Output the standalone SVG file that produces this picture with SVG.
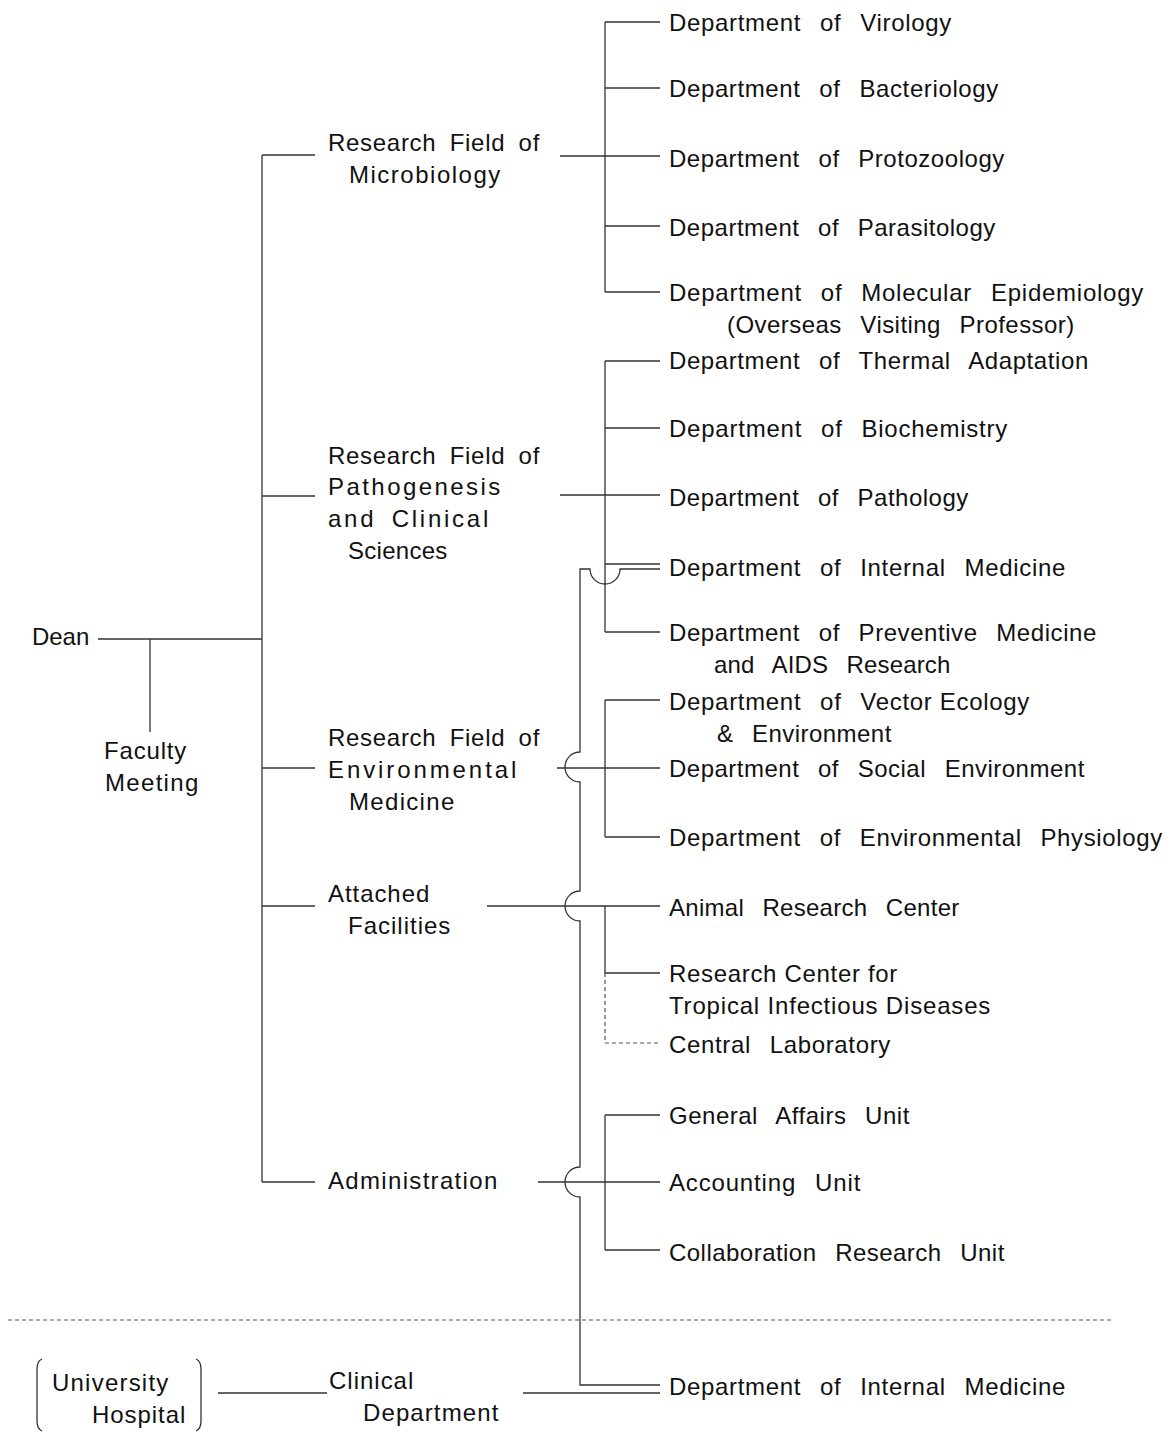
<svg xmlns="http://www.w3.org/2000/svg" width="1172" height="1432" viewBox="0 0 1172 1432">
<style>
text{font-family:"Liberation Sans",Arial,Helvetica,sans-serif;font-size:24px;fill:#111;letter-spacing:0.7px;word-spacing:11.5px}
.l{word-spacing:6px}
.n{word-spacing:0px}
.c{fill:none;stroke:#333;stroke-width:1.3}
.d{fill:none;stroke:#555;stroke-width:1.2;stroke-dasharray:4 3}
</style>
<rect width="1172" height="1432" fill="#fff"/>
<g id="connectors">
<path class="c" d="M98 639H262M150 639V732M262 155V1182M262 155H315M262 496H315M262 768H315M262 906H315M262 1182H315"/>
<path class="c" d="M605 22V292M605 22H660M605 88H660M560 156H660M605 226H660M605 292H660"/>
<path class="c" d="M605 361V632M605 361H660M605 428H660M560 495H660M605 564H660M605 632H660"/>
<path class="c" d="M605 700V837M605 700H660M557 768H660M605 837H660"/>
<path class="c" d="M487 906H660M605 906V973H660"/>
<path class="d" d="M605 973V1043H660"/>
<path class="c" d="M538 1182H660M605 1115V1250M605 1115H660M605 1250H660"/>
<path class="c" d="M660 569H620A15 15 0 0 1 590 569H580V752A15 15 0 0 0 580 782V891A15 15 0 0 0 580 921V1167A15 15 0 0 0 580 1197V1385H660"/>
<path class="c" d="M218 1393H327M523 1393H660"/>
<path class="d" d="M8 1320H1112"/>
</g>
<g id="dean"><text class="l" x="32" y="645" textLength="58" lengthAdjust="spacing">Dean</text></g>
<g id="faculty-meeting"><text class="l" x="104" y="759" textLength="83" lengthAdjust="spacing">Faculty</text><text class="l" x="105" y="791" textLength="94" lengthAdjust="spacing">Meeting</text></g>
<g id="rf-microbiology"><text class="l" x="328" y="151" textLength="212" lengthAdjust="spacing">Research Field of</text><text class="l" x="349" y="183" textLength="152" lengthAdjust="spacing">Microbiology</text></g>
<g id="rf-pathogenesis"><text class="l" x="328" y="464" textLength="212" lengthAdjust="spacing">Research Field of</text><text class="l" x="328" y="495" textLength="173" lengthAdjust="spacing">Pathogenesis</text><text class="l" x="328" y="527" textLength="161" lengthAdjust="spacing">and Clinical</text><text class="l" x="348" y="559" textLength="100" lengthAdjust="spacing">Sciences</text></g>
<g id="rf-environmental"><text class="l" x="328" y="746" textLength="212" lengthAdjust="spacing">Research Field of</text><text class="l" x="328" y="778" textLength="189" lengthAdjust="spacing">Environmental</text><text class="l" x="349" y="810" textLength="106" lengthAdjust="spacing">Medicine</text></g>
<g id="attached-facilities"><text class="l" x="328" y="902" textLength="102" lengthAdjust="spacing">Attached</text><text class="l" x="348" y="934" textLength="103" lengthAdjust="spacing">Facilities</text></g>
<g id="administration"><text class="l" x="328" y="1189" textLength="170" lengthAdjust="spacing">Administration</text></g>
<g id="d-virology"><text x="669" y="31" textLength="283" lengthAdjust="spacing">Department of Virology</text></g>
<g id="d-bacteriology"><text x="669" y="97" textLength="330" lengthAdjust="spacing">Department of Bacteriology</text></g>
<g id="d-protozoology"><text x="669" y="167" textLength="336" lengthAdjust="spacing">Department of Protozoology</text></g>
<g id="d-parasitology"><text x="669" y="236" textLength="327" lengthAdjust="spacing">Department of Parasitology</text></g>
<g id="d-molecular-epidemiology"><text x="669" y="301" textLength="475" lengthAdjust="spacing">Department of Molecular Epidemiology</text><text x="727" y="333" textLength="348" lengthAdjust="spacing">(Overseas Visiting Professor)</text></g>
<g id="d-thermal"><text x="669" y="369" textLength="420" lengthAdjust="spacing">Department of Thermal Adaptation</text></g>
<g id="d-biochemistry"><text x="669" y="437" textLength="339" lengthAdjust="spacing">Department of Biochemistry</text></g>
<g id="d-pathology"><text x="669" y="506" textLength="300" lengthAdjust="spacing">Department of Pathology</text></g>
<g id="d-internal-medicine"><text x="669" y="576" textLength="397" lengthAdjust="spacing">Department of Internal Medicine</text></g>
<g id="d-preventive"><text x="669" y="641" textLength="428" lengthAdjust="spacing">Department of Preventive Medicine</text><text x="714" y="673" textLength="237" lengthAdjust="spacing">and AIDS Research</text></g>
<g id="d-vector"><text x="669" y="710" textLength="361" lengthAdjust="spacing">Department of <tspan class="n">Vector Ecology</tspan></text><text x="717" y="742" textLength="175" lengthAdjust="spacing">&amp; Environment</text></g>
<g id="d-social"><text x="669" y="777" textLength="416" lengthAdjust="spacing">Department of Social Environment</text></g>
<g id="d-env-physiology"><text x="669" y="846" textLength="494" lengthAdjust="spacing">Department of Environmental Physiology</text></g>
<g id="animal-center"><text x="669" y="916" textLength="291" lengthAdjust="spacing">Animal Research Center</text></g>
<g id="tropical-center"><text class="n" x="669" y="982" textLength="229" lengthAdjust="spacing">Research Center for</text><text class="n" x="669" y="1014" textLength="322" lengthAdjust="spacing">Tropical Infectious Diseases</text></g>
<g id="central-lab"><text x="669" y="1053" textLength="222" lengthAdjust="spacing">Central Laboratory</text></g>
<g id="general-affairs"><text x="669" y="1124" textLength="241" lengthAdjust="spacing">General Affairs Unit</text></g>
<g id="accounting"><text x="669" y="1191" textLength="192" lengthAdjust="spacing">Accounting Unit</text></g>
<g id="collaboration"><text x="669" y="1261" textLength="336" lengthAdjust="spacing">Collaboration Research Unit</text></g>
<g id="university-hospital"><path class="c" d="M42 1359Q37 1361 37 1369V1421Q37 1429 42 1431M196 1359Q201 1361 201 1369V1421Q201 1429 196 1431"/><text class="l" x="52" y="1391" textLength="117" lengthAdjust="spacing">University</text><text class="l" x="92" y="1423" textLength="94" lengthAdjust="spacing">Hospital</text></g>
<g id="clinical-department"><text class="l" x="329" y="1389" textLength="85" lengthAdjust="spacing">Clinical</text><text class="l" x="363" y="1421" textLength="136" lengthAdjust="spacing">Department</text></g>
<g id="d-internal-medicine-clinical"><text x="669" y="1395" textLength="397" lengthAdjust="spacing">Department of Internal Medicine</text></g>
</svg>
